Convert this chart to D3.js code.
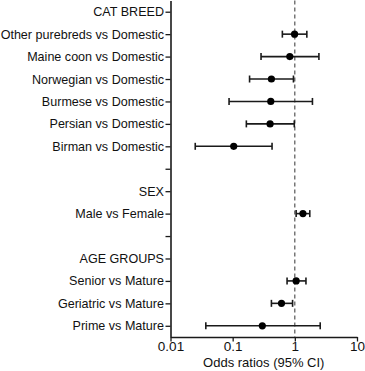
<!DOCTYPE html>
<html><head><meta charset="utf-8">
<script src="https://cdn.jsdelivr.net/npm/d3@7"></script>
<style>body{margin:0;background:#fff}svg{display:block}text{font-family:"Liberation Sans",Arial,sans-serif;fill:#111}</style>
</head><body><svg id="c" width="365" height="371"></svg>
<script>
const labels = ["CAT BREED","Other purebreds vs Domestic","Maine coon vs Domestic","Norwegian vs Domestic","Burmese vs Domestic","Persian vs Domestic","Birman vs Domestic","","SEX","Male vs Female","","AGE GROUPS","Senior vs Mature","Geriatric vs Mature","Prime vs Mature"];
const oddsRatio = [null,0.99,0.83,0.42,0.41,0.40,0.104,null,null,1.35,null,null,1.05,0.61,0.30];
const ciLow =     [null,0.63,0.286,0.187,0.0875,0.166,0.025,null,null,1.05,null,null,0.75,0.42,0.037];
const ciHigh =    [null,1.56,2.44,0.95,1.92,0.98,0.43,null,null,1.74,null,null,1.51,0.92,2.56];
const xTicks = [0.01,0.1,1,10];
const xTickLabels = ["0.01","0.1","1","10"];
const refLine = 1;
const xTitle = "Odds ratios (95% CI)";

(function(){
const svg = d3.select("#c");
const mL = 170.5, mR = 357, mT = 0.5, mB = 337;
const x = d3.scaleLog().domain([0.01,10]).range([mL,mR]);
const y = d3.scaleLinear().domain([-0.5,14.5]).range([mT,mB]);
const col = "#1a1a1a";

const yAxis = d3.axisLeft(y).tickValues(d3.range(labels.length)).tickFormat(i=>labels[i]).tickSize(5).tickPadding(1.5).tickSizeOuter(0);
const gy = svg.append("g").attr("transform",`translate(${mL},0)`).call(yAxis);
gy.select(".domain").attr("stroke",col).attr("stroke-width",1.6);
gy.selectAll(".tick line").attr("stroke",col).attr("stroke-width",1.3);
const yt = gy.selectAll(".tick text").style("font-size","13px").attr("fill","#111");
// shrink to fit the left margin if needed
let maxW = 0; yt.each(function(){ maxW = Math.max(maxW, this.getComputedTextLength()); });
const avail = mL - 5 - 1.5 - 0.5;
if (maxW > avail) yt.style("font-size", (13*avail/maxW).toFixed(2)+"px");

const xAxis = d3.axisBottom(x).tickValues(xTicks).tickFormat((d,i)=>xTickLabels[i]).tickSize(4.5).tickSizeOuter(0);
const gx = svg.append("g").attr("transform",`translate(0,${mB})`).call(xAxis);
gx.select(".domain").attr("stroke",col).attr("stroke-width",1.6);
gx.selectAll(".tick line").attr("stroke",col).attr("stroke-width",1.3);
gx.selectAll(".tick text").style("font-size","13.5px").attr("fill","#111").attr("dy",0).attr("y",13.5);

svg.append("text").attr("x",(mL+mR)/2).attr("y",366.5).attr("text-anchor","middle").style("font-size","13px").text(xTitle);

svg.append("line").attr("x1",x(refLine)).attr("x2",x(refLine)).attr("y1",mT).attr("y2",mB)
  .attr("stroke","#333").attr("stroke-width",1).attr("stroke-dasharray","4,3");

const rows = d3.range(labels.length).filter(i=>oddsRatio[i]!=null);
const g = svg.append("g");
rows.forEach(i=>{
  const yy = y(i);
  g.append("line").attr("x1",x(ciLow[i])).attr("x2",x(ciHigh[i])).attr("y1",yy).attr("y2",yy).attr("stroke",col).attr("stroke-width",1.6);
  [ciLow[i],ciHigh[i]].forEach(v=>{
    g.append("line").attr("x1",x(v)).attr("x2",x(v)).attr("y1",yy-3.5).attr("y2",yy+3.5).attr("stroke",col).attr("stroke-width",1.6);
  });
  g.append("circle").attr("cx",x(oddsRatio[i])).attr("cy",yy).attr("r",3.6).attr("fill","#000");
});
})();
</script></body></html>
